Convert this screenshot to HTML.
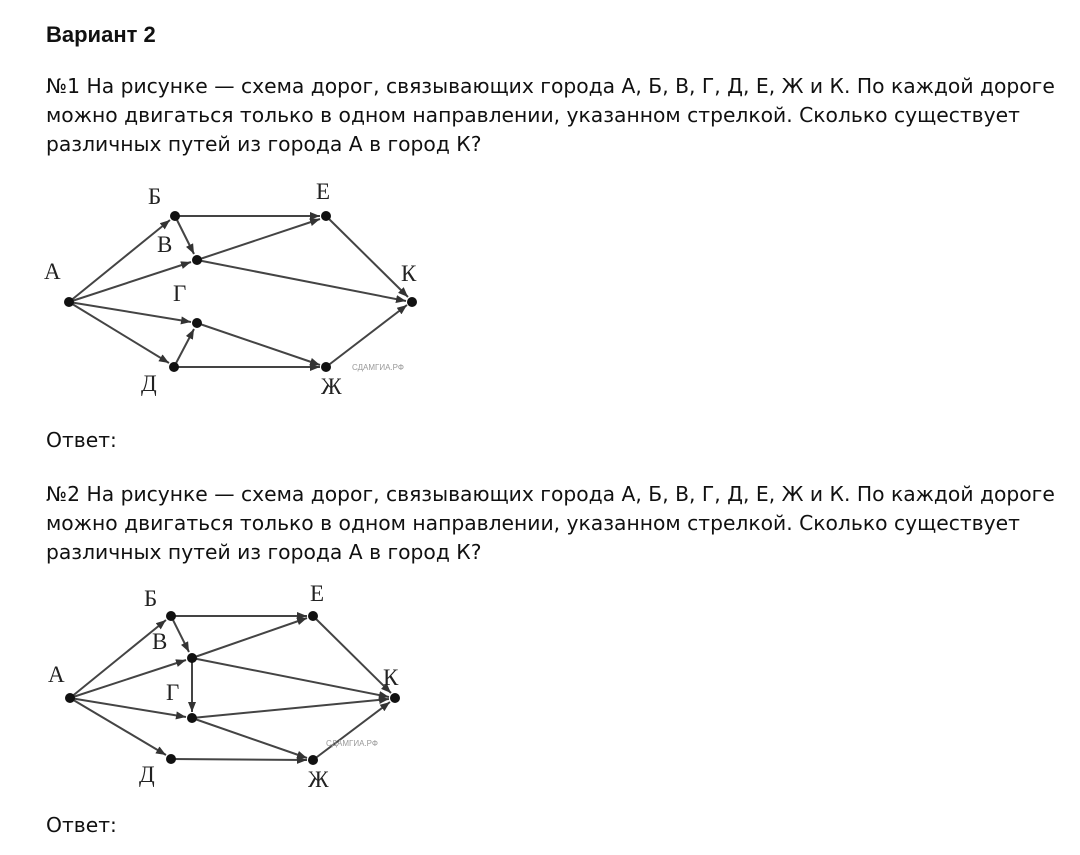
<!DOCTYPE html>
<html><head><meta charset="utf-8"><style>
body{margin:0;width:1080px;height:855px;background:#fff;position:relative;overflow:hidden;font-family:"DejaVu Sans","Liberation Sans",sans-serif;color:#111}
.t{position:absolute;left:46px;white-space:nowrap;font-size:20.3px;line-height:29px}
.h{position:absolute;left:46px;top:22px;font-family:"Liberation Sans",sans-serif;font-weight:bold;font-size:22px}
svg{position:absolute;left:0;top:0}
svg text{font-family:"Liberation Serif",serif;font-size:23px;fill:#222}
svg .w{font-family:"Liberation Sans",sans-serif;font-size:8px;fill:#999}
</style></head><body>
<div class="h">Вариант 2</div>
<div class="t" style="top:72px">№1 На рисунке — схема дорог, связывающих города А, Б, В, Г, Д, Е, Ж и К. По каждой дороге<br>можно двигаться только в одном направлении, указанном стрелкой. Сколько существует<br>различных путей из города А в город К?</div>
<div class="t" style="top:426px">Ответ:</div>
<div class="t" style="top:480px">№2 На рисунке — схема дорог, связывающих города А, Б, В, Г, Д, Е, Ж и К. По каждой дороге<br>можно двигаться только в одном направлении, указанном стрелкой. Сколько существует<br>различных путей из города А в город К?</div>
<div class="t" style="top:811px">Ответ:</div>
<svg width="1080" height="855">
<defs><marker id="a" markerWidth="10" markerHeight="8" refX="10" refY="4" orient="auto" markerUnits="userSpaceOnUse"><path d="M0,0 L10,4 L0,8 Z" fill="#333"/></marker></defs>
<g stroke="#444" stroke-width="2" marker-end="url(#a)">
<line x1="69" y1="302" x2="170" y2="220"/>
<line x1="69" y1="302" x2="191" y2="262"/>
<line x1="69" y1="302" x2="191" y2="322"/>
<line x1="69" y1="302" x2="169" y2="363"/>
<line x1="175" y1="216" x2="320" y2="216"/>
<line x1="175" y1="216" x2="194" y2="254"/>
<line x1="197" y1="260" x2="320" y2="219"/>
<line x1="197" y1="260" x2="406" y2="301"/>
<line x1="326" y1="216" x2="408" y2="297"/>
<line x1="197" y1="323" x2="320" y2="365"/>
<line x1="174" y1="367" x2="194" y2="329"/>
<line x1="174" y1="367" x2="320" y2="367"/>
<line x1="326" y1="367" x2="407" y2="305"/>
<line x1="70" y1="698" x2="166" y2="620"/>
<line x1="70" y1="698" x2="186" y2="660"/>
<line x1="70" y1="698" x2="186" y2="717"/>
<line x1="70" y1="698" x2="166" y2="755"/>
<line x1="171" y1="616" x2="307" y2="616"/>
<line x1="171" y1="616" x2="189" y2="652"/>
<line x1="192" y1="658" x2="307" y2="618"/>
<line x1="192" y1="658" x2="389" y2="697"/>
<line x1="192" y1="658" x2="192" y2="712"/>
<line x1="313" y1="616" x2="391" y2="693"/>
<line x1="192" y1="718" x2="389" y2="699"/>
<line x1="192" y1="718" x2="307" y2="758"/>
<line x1="171" y1="759" x2="307" y2="760"/>
<line x1="313" y1="760" x2="390" y2="702"/>
</g>
<g fill="#111">
<circle cx="69" cy="302" r="5"/><circle cx="175" cy="216" r="5"/><circle cx="326" cy="216" r="5"/><circle cx="197" cy="260" r="5"/><circle cx="412" cy="302" r="5"/><circle cx="197" cy="323" r="5"/><circle cx="174" cy="367" r="5"/><circle cx="326" cy="367" r="5"/>
<circle cx="70" cy="698" r="5"/><circle cx="171" cy="616" r="5"/><circle cx="313" cy="616" r="5"/><circle cx="192" cy="658" r="5"/><circle cx="395" cy="698" r="5"/><circle cx="192" cy="718" r="5"/><circle cx="171" cy="759" r="5"/><circle cx="313" cy="760" r="5"/>
</g>
<text x="148" y="204">Б</text><text x="316" y="199">Е</text><text x="157" y="252">В</text><text x="44" y="279">А</text><text x="401" y="281">К</text><text x="173" y="301">Г</text><text x="141" y="391">Д</text><text x="321" y="394">Ж</text>
<text class="w" x="352" y="370">СДАМГИА.РФ</text>
<text x="144" y="606">Б</text><text x="310" y="601">Е</text><text x="152" y="649">В</text><text x="48" y="682">А</text><text x="383" y="685">К</text><text x="166" y="700">Г</text><text x="139" y="782">Д</text><text x="308" y="787">Ж</text>
<text class="w" x="326" y="746">СДАМГИА.РФ</text>
</svg>
</body></html>
